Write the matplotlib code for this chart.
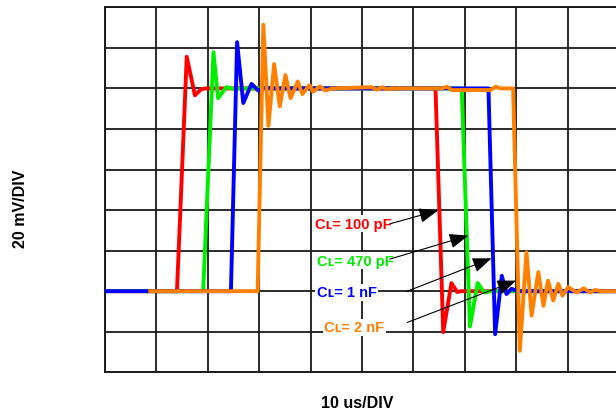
import matplotlib
matplotlib.use('Agg')
import matplotlib.pyplot as plt

# all coordinates in scope divisions (10 us/DIV horizontally, 20 mV/DIV vertically)
red_x = [0.0, 1.40, 1.45, 1.59, 1.75, 1.87, 1.95, 6.43, 6.58, 6.74, 6.85, 6.92, 10.0]
red_y = [2.0, 2.0, 3.5, 7.78, 6.83, 6.98, 7.0, 7.0, 0.99, 2.2, 1.98, 2.0, 2.0]

green_x = [0.0, 1.91, 2.11, 2.20, 2.36, 2.50, 2.60, 6.94, 7.10, 7.25, 7.38, 7.50, 10.0]
green_y = [2.0, 2.0, 7.89, 6.76, 7.03, 6.99, 7.0, 7.0, 1.13, 2.2, 1.97, 2.0, 2.0]

blue_x = [0.0, 2.45, 2.57, 2.69, 2.85, 2.98, 3.10, 3.25, 7.46, 7.59, 7.72, 7.81, 7.91, 8.02, 10.0]
blue_y = [2.0, 2.0, 8.14, 6.64, 7.11, 6.95, 7.02, 7.0, 7.0, 0.94, 2.38, 1.93, 2.06, 2.0, 2.0]

orange_x = [0.88, 2.97, 3.08, 3.18, 3.29, 3.40, 3.51, 3.61, 3.75, 3.84, 3.98, 4.05,
            4.18, 4.28, 4.44, 5.19, 5.29, 5.39, 5.48, 5.60, 6.55, 6.65, 6.75,
            7.50, 7.60, 7.70, 7.94, 8.07, 8.20, 8.30, 8.43, 8.53, 8.62, 8.72,
            8.82, 8.90, 9.01, 9.18, 9.31, 9.44, 9.53, 9.65, 10.0]
orange_y = [2.0, 2.0, 8.57, 6.08, 7.60, 6.56, 7.33, 6.76, 7.17, 6.86, 7.08, 6.92,
            7.05, 6.95, 7.0, 7.03, 6.97, 7.03, 6.98, 7.0, 7.0, 7.04, 6.96,
            6.96, 7.04, 7.0, 7.0, 0.53, 2.96, 1.40, 2.47, 1.64, 2.26, 1.77,
            2.18, 1.89, 2.10, 1.97, 2.07, 1.97, 2.03, 2.0, 2.0]

# labels: text, left x, centre y, arrow tail, arrow head
label_text = ['C\u029f= 100 pF', 'C\u029f= 470 pF', 'C\u029f= 1 nF', 'C\u029f= 2 nF']
label_pos = [(4.09, 3.66), (4.12, 2.75), (4.12, 1.97), (4.26, 1.11)]
arrow_tail = [(5.54, 3.66), (5.54, 2.79), (5.86, 1.99), (5.88, 1.23)]
arrow_head = [(6.48, 3.99), (7.07, 3.37), (7.52, 2.81), (8.0, 2.26)]

colors = ['#ff0000', '#00ee00', '#0000ff', '#ff8000']

fig = plt.figure(figsize=(6.16, 4.14), dpi=100)
# the 10th division runs a few pixels past the right edge of the picture
ax = fig.add_axes([105/616, 40.7/414, 514/616, 365/414])
ax.set_xlim(0, 10)
ax.set_ylim(0, 9)
ax.set_xticks(range(11))
ax.set_yticks(range(10))
ax.tick_params(length=0, labelbottom=False, labelleft=False)
ax.grid(True, color='#1a1a1a', lw=1.3)
ax.set_axisbelow(True)
for s in ax.spines.values():
    s.set_color('#1a1a1a')
    s.set_linewidth(1.4)

series = [(red_x, red_y), (green_x, green_y), (blue_x, blue_y), (orange_x, orange_y)]
for i, (xs, ys) in enumerate(series):
    ax.plot(xs, ys, color=colors[i], lw=2.8, solid_joinstyle='round', zorder=3 + i)

for i in range(4):
    ax.text(label_pos[i][0], label_pos[i][1], label_text[i], color=colors[i],
            fontsize=10.5, fontweight='bold', family=['Liberation Sans', 'DejaVu Sans'],
            ha='left', va='center', zorder=8,
            bbox=dict(facecolor='white', edgecolor='none', pad=1.0))
    ax.annotate('', xy=arrow_head[i], xytext=arrow_tail[i], zorder=9,
                arrowprops=dict(arrowstyle='-|>,head_length=0.9,head_width=0.35',
                                mutation_scale=13, color='black', lw=0.8,
                                shrinkA=0, shrinkB=0))

fig.text(21/616, 1 - 209/414, '20 mV/DIV', rotation=90, fontsize=11.5, fontweight='bold',
         family='Liberation Sans', ha='center', va='center')
fig.text(356.7/616, 1 - 403.3/414, '10 us/DIV', fontsize=11.5, fontweight='bold',
         family='Liberation Sans', ha='center', va='center')

fig.savefig('out.png', dpi=100)
